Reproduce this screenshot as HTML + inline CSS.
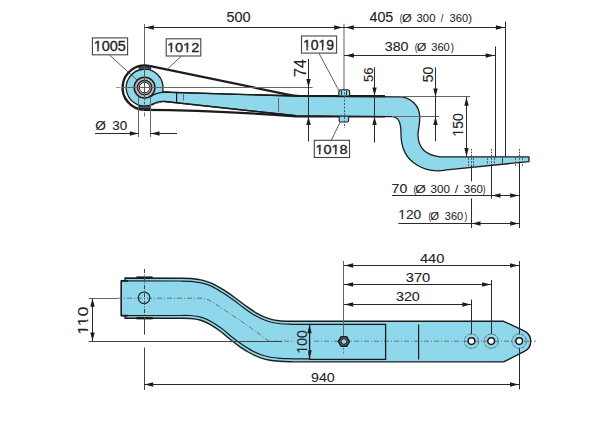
<!DOCTYPE html>
<html><head><meta charset="utf-8"><style>
html,body{margin:0;padding:0;background:#fff;}
svg{display:block;}
text{font-family:"Liberation Sans",sans-serif;stroke:#222;stroke-width:0.1px;}
.sm text{stroke-width:0.05px;}
.lb text{stroke-width:0.35px;}
</style></head><body>
<svg width="600" height="440" viewBox="0 0 600 440">
<rect width="600" height="440" fill="#fff"/>
<line x1="144.50" y1="24.00" x2="144.50" y2="66.00" stroke="#666" stroke-width="1.0" stroke-linecap="butt"/>
<line x1="344.00" y1="23.80" x2="344.00" y2="89.80" stroke="#777" stroke-width="1.15" stroke-linecap="butt"/>
<line x1="505.50" y1="21.60" x2="505.50" y2="157.00" stroke="#2a2a2a" stroke-width="1.0" stroke-linecap="butt"/>
<line x1="495.50" y1="46.50" x2="495.50" y2="157.00" stroke="#2a2a2a" stroke-width="1.0" stroke-linecap="butt"/>
<line x1="144.60" y1="27.50" x2="344.00" y2="27.50" stroke="#2a2a2a" stroke-width="1.0" stroke-linecap="butt"/>
<path d="M145.30,27.50 L153.80,25.30 L153.80,29.70 Z" fill="#1c1c1c"/>
<path d="M342.60,27.50 L334.10,29.70 L334.10,25.30 Z" fill="#1c1c1c"/>
<text x="226.42" y="21.76" font-size="14.12" fill="#222" textLength="24.14" lengthAdjust="spacingAndGlyphs">500</text>
<line x1="344.00" y1="27.50" x2="505.20" y2="27.50" stroke="#2a2a2a" stroke-width="1.0" stroke-linecap="butt"/>
<path d="M345.40,27.50 L353.90,25.30 L353.90,29.70 Z" fill="#1c1c1c"/>
<path d="M504.40,27.50 L495.90,29.70 L495.90,25.30 Z" fill="#1c1c1c"/>
<text x="369.47" y="21.86" font-size="13.98" fill="#222" textLength="23.83" lengthAdjust="spacingAndGlyphs">405</text>
<g class="sm">
<text x="399.81" y="21.90" font-size="10.50" fill="#222" textLength="2.64" lengthAdjust="spacingAndGlyphs">(</text>
<text x="401.96" y="22.20" font-size="11.55" fill="#222" textLength="9.77" lengthAdjust="spacingAndGlyphs">Ø</text>
<text x="416.57" y="21.90" font-size="10.50" fill="#222" textLength="18.87" lengthAdjust="spacingAndGlyphs">300</text>
<text x="440.80" y="21.90" font-size="10.50" fill="#222" textLength="2.60" lengthAdjust="spacingAndGlyphs">/</text>
<text x="449.58" y="21.90" font-size="10.50" fill="#222" textLength="18.56" lengthAdjust="spacingAndGlyphs">360</text>
<text x="468.23" y="21.90" font-size="10.50" fill="#222" textLength="3.77" lengthAdjust="spacingAndGlyphs">)</text>
</g>
<line x1="344.00" y1="55.50" x2="495.00" y2="55.50" stroke="#2a2a2a" stroke-width="1.0" stroke-linecap="butt"/>
<path d="M345.40,55.50 L353.90,53.30 L353.90,57.70 Z" fill="#1c1c1c"/>
<path d="M494.20,55.50 L485.70,57.70 L485.70,53.30 Z" fill="#1c1c1c"/>
<text x="384.76" y="50.77" font-size="13.14" fill="#222" textLength="23.80" lengthAdjust="spacingAndGlyphs">380</text>
<g class="sm">
<text x="414.79" y="50.90" font-size="10.00" fill="#222" textLength="2.76" lengthAdjust="spacingAndGlyphs">(</text>
<text x="416.87" y="51.20" font-size="11.00" fill="#222" textLength="9.55" lengthAdjust="spacingAndGlyphs">Ø</text>
<text x="431.28" y="50.90" font-size="10.00" fill="#222" textLength="18.45" lengthAdjust="spacingAndGlyphs">360</text>
<text x="450.64" y="50.90" font-size="10.00" fill="#222" textLength="3.27" lengthAdjust="spacingAndGlyphs">)</text>
</g>
<path d="M149.2,65.8 L288,94.6 Q294,96 300,96" fill="none" stroke="#1c1c1c" stroke-width="2.2" stroke-linejoin="round" />
<path d="M149.15,65.87 A22.2,22.2 0 1 0 143.5,109.80" fill="none" stroke="#1c1c1c" stroke-width="2.4" stroke-linejoin="round" />
<path d="M143.5,109.9 Q210,110 296,116.4 L385,116.4" fill="none" stroke="#1c1c1c" stroke-width="2.2" stroke-linejoin="round" />
<path d="M160,92 L296,96 L399.5,96.9 C410.6,96.9 419.8,105.8 419.8,117.5 C419.8,126 417.6,131 418,136 C418.5,146 424,155 440,156.8 L529,156.8 L529,161.6 L446.7,169.8 C436,172 425,170 417,165 C405,158 401,146 401,134 C401,128 400.5,124 399,121 C397,117.5 395,116.6 392,116.6 L296,115.6 L163,101.3 Z" fill="#8fd8ec" stroke="#1c1c1c" stroke-width="1.3" stroke-linejoin="round" />
<path d="M162.82,90.16 A18.4,18.4 0 1 0 153.24,103.85 L163,101.3 L163,92 Z" fill="#8fd8ec" stroke="#1c1c1c" stroke-width="1.3" stroke-linejoin="round" />
<path d="M155,92 L165,92 L165,101 L155,104 Z" fill="#8fd8ec"/>
<path d="M150,97.2 Q155,93 163,92.1 L170,92.2" fill="none" stroke="#1c1c1c" stroke-width="1.3" stroke-linejoin="round" />
<path d="M151.5,105.2 Q156,101.5 163,101.3" fill="none" stroke="#1c1c1c" stroke-width="1.3" stroke-linejoin="round" />
<line x1="296.00" y1="96.00" x2="385.00" y2="96.10" stroke="#1c1c1c" stroke-width="2.2" stroke-linecap="butt"/>
<line x1="163.00" y1="92.10" x2="296.00" y2="96.00" stroke="#1c1c1c" stroke-width="1.4" stroke-linecap="butt"/>
<line x1="163.00" y1="101.30" x2="296.00" y2="115.80" stroke="#1c1c1c" stroke-width="1.4" stroke-linecap="butt"/>
<line x1="176.60" y1="92.40" x2="176.60" y2="102.50" stroke="#1c1c1c" stroke-width="1.2" stroke-linecap="butt"/>
<line x1="183.50" y1="94.20" x2="183.50" y2="100.40" stroke="#666" stroke-width="1.0" stroke-linecap="butt"/>
<line x1="278.50" y1="97.80" x2="278.50" y2="112.20" stroke="#666" stroke-width="1.0" stroke-linecap="butt"/>
<circle cx="144.6" cy="87.6" r="10.4" fill="#b8b8b8" stroke="#1c1c1c" stroke-width="1.5" />
<circle cx="144.6" cy="87.6" r="7.2" fill="none" stroke="#1c1c1c" stroke-width="1.2" />
<circle cx="144.6" cy="87.6" r="5.3" fill="#fff" stroke="#1c1c1c" stroke-width="1.0" />
<rect x="139.2" y="66.9" width="11.4" height="2.4" fill="#3a5d68" stroke="#1c1c1c" stroke-width="0.9"/>
<rect x="138.9" y="106.0" width="11.5" height="2.6" fill="#3a5d68" stroke="#1c1c1c" stroke-width="0.9"/>
<line x1="121.50" y1="87.50" x2="312.60" y2="87.50" stroke="#666" stroke-width="1.0" stroke-linecap="butt"/>
<line x1="116.30" y1="87.50" x2="118.60" y2="87.50" stroke="#777" stroke-width="1.0" stroke-linecap="butt"/>
<line x1="119.30" y1="87.50" x2="120.30" y2="87.50" stroke="#777" stroke-width="1.0" stroke-linecap="butt"/>
<line x1="144.50" y1="66.00" x2="144.50" y2="98.00" stroke="#555" stroke-width="1.0" stroke-linecap="butt"/>
<line x1="144.50" y1="98.00" x2="144.50" y2="106.00" stroke="#555" stroke-width="1.0" stroke-linecap="butt" stroke-dasharray="2.5,1.5"/>
<line x1="144.50" y1="112.50" x2="144.50" y2="116.50" stroke="#777" stroke-width="1.0" stroke-linecap="butt"/>
<line x1="138.50" y1="97.00" x2="138.50" y2="137.00" stroke="#666" stroke-width="1.0" stroke-linecap="butt"/>
<line x1="150.50" y1="97.00" x2="150.50" y2="137.00" stroke="#666" stroke-width="1.0" stroke-linecap="butt"/>
<line x1="95.00" y1="133.50" x2="138.80" y2="133.50" stroke="#2a2a2a" stroke-width="1.0" stroke-linecap="butt"/>
<path d="M138.30,133.50 L129.80,135.70 L129.80,131.30 Z" fill="#1c1c1c"/>
<line x1="150.50" y1="133.50" x2="177.00" y2="133.50" stroke="#2a2a2a" stroke-width="1.0" stroke-linecap="butt"/>
<path d="M151.00,133.50 L159.50,131.30 L159.50,135.70 Z" fill="#1c1c1c"/>
<text x="95.22" y="129.60" font-size="13.60" fill="#222" textLength="10.64" lengthAdjust="spacingAndGlyphs">Ø</text>
<text x="112.19" y="129.67" font-size="13.14" fill="#222" textLength="15.04" lengthAdjust="spacingAndGlyphs">30</text>
<path d="M338.8,96 L338.8,92 Q338.8,89.8 341,89.8 L347.5,89.8 Q349.6,89.8 349.6,92 L349.6,96 Z" fill="#8fd8ec" stroke="#1c1c1c" stroke-width="1.1" stroke-linejoin="round" />
<path d="M339.2,116.8 L339.2,120.8 Q339.2,122 340.4,122 L347.4,122 Q348.6,122 348.6,120.8 L348.6,116.8" fill="#8fd8ec" stroke="#1c1c1c" stroke-width="1.1" stroke-linejoin="round" />
<line x1="341.50" y1="90.50" x2="341.50" y2="95.50" stroke="#333" stroke-width="1.0" stroke-linecap="butt"/>
<line x1="346.50" y1="90.50" x2="346.50" y2="95.50" stroke="#333" stroke-width="1.0" stroke-linecap="butt"/>
<line x1="344.50" y1="89.00" x2="344.50" y2="128.00" stroke="#555" stroke-width="1.0" stroke-linecap="butt" stroke-dasharray="2,1.5"/>
<line x1="308.50" y1="59.00" x2="308.50" y2="141.50" stroke="#2a2a2a" stroke-width="1.0" stroke-linecap="butt"/>
<path d="M308.50,87.60 L306.30,79.10 L310.70,79.10 Z" fill="#1c1c1c"/>
<path d="M308.50,116.40 L310.70,124.90 L306.30,124.90 Z" fill="#1c1c1c"/>
<g transform="rotate(-90 305.60 68.00)"><text x="296.70" y="68.00" font-size="16" fill="#222">74</text></g>
<line x1="374.50" y1="67.30" x2="374.50" y2="142.50" stroke="#2a2a2a" stroke-width="1.0" stroke-linecap="butt"/>
<path d="M374.50,96.00 L372.30,87.50 L376.70,87.50 Z" fill="#1c1c1c"/>
<path d="M374.50,116.40 L376.70,124.90 L372.30,124.90 Z" fill="#1c1c1c"/>
<g transform="rotate(-90 372.80 74.70)"><text x="365.41" y="74.70" font-size="13.3" fill="#222">56</text></g>
<line x1="400.00" y1="96.50" x2="470.00" y2="96.50" stroke="#666" stroke-width="1.0" stroke-linecap="butt"/>
<line x1="392.00" y1="116.50" x2="439.30" y2="116.50" stroke="#666" stroke-width="1.0" stroke-linecap="butt"/>
<line x1="435.50" y1="67.30" x2="435.50" y2="141.30" stroke="#2a2a2a" stroke-width="1.0" stroke-linecap="butt"/>
<path d="M435.50,96.90 L433.30,88.40 L437.70,88.40 Z" fill="#1c1c1c"/>
<path d="M435.50,116.60 L437.70,125.10 L433.30,125.10 Z" fill="#1c1c1c"/>
<g transform="rotate(-90 433.20 74.50)"><text x="425.42" y="74.50" font-size="14" fill="#222">50</text></g>
<line x1="466.50" y1="96.90" x2="466.50" y2="156.70" stroke="#2a2a2a" stroke-width="1.0" stroke-linecap="butt"/>
<path d="M466.50,97.20 L468.70,105.70 L464.30,105.70 Z" fill="#1c1c1c"/>
<path d="M466.50,156.40 L464.30,147.90 L468.70,147.90 Z" fill="#1c1c1c"/>
<g transform="rotate(-90 463.20 124.90)"><text x="451.52" y="124.90" font-size="14" fill="#222">150</text><rect x="451.76" y="122.55" width="3.13" height="3.65" fill="#fff"/><rect x="456.43" y="122.55" width="3.32" height="3.65" fill="#fff"/></g>
<line x1="468.50" y1="157.80" x2="468.50" y2="166.00" stroke="#555" stroke-width="1.0" stroke-linecap="butt" stroke-dasharray="2,1.3"/>
<line x1="471.50" y1="157.80" x2="471.50" y2="166.00" stroke="#555" stroke-width="1.0" stroke-linecap="butt" stroke-dasharray="2,1.3"/>
<line x1="473.50" y1="157.80" x2="473.50" y2="166.00" stroke="#555" stroke-width="1.0" stroke-linecap="butt" stroke-dasharray="2,1.3"/>
<line x1="487.50" y1="157.80" x2="487.50" y2="166.00" stroke="#555" stroke-width="1.0" stroke-linecap="butt" stroke-dasharray="2,1.3"/>
<line x1="491.50" y1="157.80" x2="491.50" y2="166.00" stroke="#555" stroke-width="1.0" stroke-linecap="butt" stroke-dasharray="2,1.3"/>
<line x1="494.50" y1="157.80" x2="494.50" y2="166.00" stroke="#555" stroke-width="1.0" stroke-linecap="butt" stroke-dasharray="2,1.3"/>
<line x1="515.50" y1="157.80" x2="515.50" y2="166.00" stroke="#555" stroke-width="1.0" stroke-linecap="butt" stroke-dasharray="2,1.3"/>
<line x1="519.50" y1="157.80" x2="519.50" y2="166.00" stroke="#555" stroke-width="1.0" stroke-linecap="butt" stroke-dasharray="2,1.3"/>
<line x1="522.50" y1="157.80" x2="522.50" y2="166.00" stroke="#555" stroke-width="1.0" stroke-linecap="butt" stroke-dasharray="2,1.3"/>
<line x1="502.50" y1="157.50" x2="502.50" y2="163.50" stroke="#444" stroke-width="1.0" stroke-linecap="butt"/>
<line x1="471.50" y1="149.00" x2="471.50" y2="156.00" stroke="#444" stroke-width="1.0" stroke-linecap="butt" stroke-dasharray="1.5,1.2"/>
<line x1="491.50" y1="149.00" x2="491.50" y2="156.00" stroke="#444" stroke-width="1.0" stroke-linecap="butt" stroke-dasharray="1.5,1.2"/>
<line x1="519.50" y1="149.00" x2="519.50" y2="156.00" stroke="#444" stroke-width="1.0" stroke-linecap="butt" stroke-dasharray="1.5,1.2"/>
<line x1="471.50" y1="166.00" x2="471.50" y2="181.30" stroke="#2a2a2a" stroke-width="1.0" stroke-linecap="butt"/>
<line x1="471.50" y1="198.40" x2="471.50" y2="228.00" stroke="#2a2a2a" stroke-width="1.0" stroke-linecap="butt"/>
<line x1="491.50" y1="164.00" x2="491.50" y2="198.50" stroke="#2a2a2a" stroke-width="1.0" stroke-linecap="butt"/>
<line x1="519.50" y1="162.00" x2="519.50" y2="228.00" stroke="#2a2a2a" stroke-width="1.0" stroke-linecap="butt"/>
<line x1="392.00" y1="195.50" x2="519.40" y2="195.50" stroke="#2a2a2a" stroke-width="1.0" stroke-linecap="butt"/>
<path d="M492.00,195.50 L500.50,193.30 L500.50,197.70 Z" fill="#1c1c1c"/>
<path d="M518.70,195.50 L510.20,197.70 L510.20,193.30 Z" fill="#1c1c1c"/>
<text x="391.58" y="192.57" font-size="13.42" fill="#222" textLength="15.67" lengthAdjust="spacingAndGlyphs">70</text>
<g class="sm">
<text x="413.46" y="192.70" font-size="10.40" fill="#222" textLength="2.89" lengthAdjust="spacingAndGlyphs">(</text>
<text x="415.23" y="193.00" font-size="11.44" fill="#222" textLength="10.53" lengthAdjust="spacingAndGlyphs">Ø</text>
<text x="430.56" y="192.70" font-size="10.40" fill="#222" textLength="19.40" lengthAdjust="spacingAndGlyphs">300</text>
<text x="454.70" y="192.70" font-size="10.40" fill="#222" textLength="3.50" lengthAdjust="spacingAndGlyphs">/</text>
<text x="463.87" y="192.70" font-size="10.40" fill="#222" textLength="19.08" lengthAdjust="spacingAndGlyphs">360</text>
<text x="482.75" y="192.70" font-size="10.40" fill="#222" textLength="2.76" lengthAdjust="spacingAndGlyphs">)</text>
</g>
<line x1="398.40" y1="223.50" x2="519.40" y2="223.50" stroke="#2a2a2a" stroke-width="1.0" stroke-linecap="butt"/>
<path d="M472.00,223.50 L480.50,221.30 L480.50,225.70 Z" fill="#1c1c1c"/>
<path d="M518.70,223.50 L510.20,225.70 L510.20,221.30 Z" fill="#1c1c1c"/>
<text x="398.25" y="219.27" font-size="12.85" fill="#222" textLength="22.98" lengthAdjust="spacingAndGlyphs">120</text>
<rect x="398.48" y="217.01" width="3.09" height="3.56" fill="#fff"/>
<rect x="403.09" y="217.01" width="3.28" height="3.56" fill="#fff"/>
<g class="sm">
<text x="428.41" y="219.70" font-size="10.10" fill="#222" textLength="2.64" lengthAdjust="spacingAndGlyphs">(</text>
<text x="430.31" y="220.00" font-size="11.11" fill="#222" textLength="8.78" lengthAdjust="spacingAndGlyphs">Ø</text>
<text x="444.88" y="219.70" font-size="10.10" fill="#222" textLength="18.24" lengthAdjust="spacingAndGlyphs">360</text>
<text x="464.45" y="219.70" font-size="10.10" fill="#222" textLength="2.76" lengthAdjust="spacingAndGlyphs">)</text>
</g>
<line x1="109.20" y1="54.80" x2="137.20" y2="80.20" stroke="#333" stroke-width="0.8" stroke-linecap="butt"/>
<rect x="92.4" y="37.9" width="35.20" height="16.90" fill="#fff" stroke="#444" stroke-width="1.1"/>
<g class="lb">
<text x="93.70" y="51.06" font-size="14.41" fill="#222" textLength="32.10" lengthAdjust="spacingAndGlyphs">1005</text>
<rect x="93.97" y="48.68" width="3.21" height="3.68" fill="#fff"/>
<rect x="98.76" y="48.68" width="3.42" height="3.68" fill="#fff"/>
</g>
<line x1="181.50" y1="56.00" x2="168.00" y2="68.50" stroke="#333" stroke-width="0.8" stroke-linecap="butt"/>
<rect x="166.2" y="38.8" width="34.60" height="17.20" fill="#fff" stroke="#444" stroke-width="1.1"/>
<g class="lb">
<text x="166.90" y="51.87" font-size="13.42" fill="#222" textLength="32.33" lengthAdjust="spacingAndGlyphs">1012</text>
<rect x="167.17" y="49.56" width="3.23" height="3.60" fill="#fff"/>
<rect x="171.99" y="49.56" width="3.44" height="3.60" fill="#fff"/>
<rect x="183.33" y="49.56" width="3.23" height="3.60" fill="#fff"/>
<rect x="188.15" y="49.56" width="3.44" height="3.60" fill="#fff"/>
</g>
<line x1="319.00" y1="53.30" x2="338.70" y2="90.20" stroke="#333" stroke-width="0.8" stroke-linecap="butt"/>
<rect x="301.5" y="36.0" width="35.10" height="17.10" fill="#fff" stroke="#444" stroke-width="1.1"/>
<g class="lb">
<text x="302.94" y="49.56" font-size="14.12" fill="#222" textLength="31.02" lengthAdjust="spacingAndGlyphs">1019</text>
<rect x="303.18" y="47.20" width="3.12" height="3.66" fill="#fff"/>
<rect x="307.83" y="47.20" width="3.31" height="3.66" fill="#fff"/>
<rect x="318.68" y="47.20" width="3.12" height="3.66" fill="#fff"/>
<rect x="323.34" y="47.20" width="3.31" height="3.66" fill="#fff"/>
</g>
<line x1="331.30" y1="140.30" x2="340.00" y2="122.50" stroke="#333" stroke-width="0.8" stroke-linecap="butt"/>
<rect x="314.3" y="140.3" width="35.20" height="17.20" fill="#fff" stroke="#444" stroke-width="1.1"/>
<g class="lb">
<text x="315.40" y="153.56" font-size="13.70" fill="#222" textLength="32.22" lengthAdjust="spacingAndGlyphs">1018</text>
<rect x="315.67" y="151.24" width="3.22" height="3.62" fill="#fff"/>
<rect x="320.48" y="151.24" width="3.43" height="3.62" fill="#fff"/>
<rect x="331.78" y="151.24" width="3.22" height="3.62" fill="#fff"/>
<rect x="336.59" y="151.24" width="3.43" height="3.62" fill="#fff"/>
</g>
<path d="M125,278 L180,278.2 C181.83,278.25 187.33,278.18 191.00,278.50 C194.67,278.82 198.33,279.22 202.00,280.10 C205.67,280.98 209.33,282.12 213.00,283.80 C216.67,285.48 220.33,287.88 224.00,290.20 C227.67,292.52 231.33,295.07 235.00,297.70 C238.67,300.33 242.33,303.40 246.00,306.00 C249.67,308.60 253.33,311.25 257.00,313.30 C260.67,315.35 264.33,317.07 268.00,318.30 C271.67,319.53 275.00,320.20 279.00,320.70 C283.00,321.20 289.83,321.20 292.00,321.30 L503.7,321.3 L524.05,330.77 A11.5,11.5 0 0 1 524.38,351.47 L503.7,361.9 L292,361.8 C290.00,361.72 283.67,361.57 280.00,361.30 C276.33,361.03 273.33,360.82 270.00,360.20 C266.67,359.58 263.33,358.80 260.00,357.60 C256.67,356.40 253.33,354.80 250.00,353.00 C246.67,351.20 243.33,349.08 240.00,346.80 C236.67,344.52 233.33,341.93 230.00,339.30 C226.67,336.67 223.33,333.50 220.00,331.00 C216.67,328.50 213.33,326.13 210.00,324.30 C206.67,322.47 203.33,320.97 200.00,320.00 C196.67,319.03 193.33,318.78 190.00,318.50 C186.67,318.22 181.67,318.33 180.00,318.30 L125,318.3 Z" fill="#8fd8ec" stroke="#1c1c1c" stroke-width="1.4" stroke-linejoin="round" />
<rect x="121.2" y="280.9" width="10" height="34.7" fill="#8fd8ec" stroke="none"/>
<path d="M121.2,280.9 L180,281 C181.79,281.05 187.20,280.99 190.76,281.29 C194.32,281.59 197.83,281.98 201.34,282.82 C204.86,283.66 208.31,284.72 211.83,286.34 C215.36,287.97 218.92,290.30 222.50,292.57 C226.09,294.84 229.72,297.35 233.37,299.97 C237.01,302.59 240.67,305.66 244.38,308.28 C248.09,310.91 251.85,313.63 255.63,315.74 C259.42,317.86 263.27,319.66 267.11,320.95 C270.94,322.24 274.50,322.92 278.65,323.48 C282.80,324.04 289.78,324.16 292.00,324.30 L310,324.3" fill="none" stroke="#1c1c1c" stroke-width="1.2" stroke-linejoin="round" />
<path d="M121.2,315.6 L180,315.5 C181.71,315.42 186.78,315.22 190.25,315.51 C193.73,315.80 197.30,316.09 200.84,317.12 C204.37,318.15 207.95,319.76 211.45,321.67 C214.94,323.58 218.40,326.05 221.80,328.60 C225.20,331.15 228.54,334.33 231.86,336.95 C235.18,339.57 238.43,342.09 241.70,344.32 C244.96,346.56 248.21,348.62 251.43,350.36 C254.65,352.10 257.83,353.63 261.02,354.78 C264.20,355.93 267.35,356.66 270.55,357.25 C273.75,357.84 276.64,358.05 280.22,358.31 C283.79,358.57 290.04,358.72 292.00,358.80 L310,358.8" fill="none" stroke="#1c1c1c" stroke-width="1.2" stroke-linejoin="round" />
<path d="M128,280.9 L121.2,280.9 L121.2,315.6 L128,315.6" fill="none" stroke="#1c1c1c" stroke-width="1.6" stroke-linejoin="round" />
<rect x="136.4" y="276.4" width="16.2" height="2.4" fill="#1c1c1c"/>
<rect x="136.4" y="317" width="16.2" height="2.4" fill="#1c1c1c"/>
<circle cx="144.1" cy="297.8" r="5.8" fill="none" stroke="#1c1c1c" stroke-width="1.2" />
<path d="M117,298.2 L200,298.2 C206,298.2 209,300 213,302.3 L249.7,327 L262,336 C266,339.5 268,341.2 272,341.2 L294.5,341.2" fill="none" stroke="#4a4a4a" stroke-width="0.7" stroke-linejoin="round" stroke-dasharray="5,2,1,2"/>
<path d="M314,341.2 L536,341.2" fill="none" stroke="#4a4a4a" stroke-width="0.7" stroke-linejoin="round" stroke-dasharray="5,2,1,2"/>
<line x1="88.70" y1="298.50" x2="117.50" y2="298.50" stroke="#666" stroke-width="1.0" stroke-linecap="butt"/>
<line x1="88.70" y1="341.50" x2="282.00" y2="341.50" stroke="#444" stroke-width="1.0" stroke-linecap="butt"/>
<line x1="92.50" y1="298.00" x2="92.50" y2="341.30" stroke="#2a2a2a" stroke-width="1.0" stroke-linecap="butt"/>
<path d="M92.50,298.30 L94.70,306.80 L90.30,306.80 Z" fill="#1c1c1c"/>
<path d="M92.50,341.00 L90.30,332.50 L94.70,332.50 Z" fill="#1c1c1c"/>
<g transform="rotate(-90 88.30 320.80)"><text x="74.05" y="320.80" font-size="14.4" fill="#222" textLength="28.50" lengthAdjust="spacingAndGlyphs">110</text><rect x="74.48" y="318.42" width="3.72" height="3.68" fill="#fff"/><rect x="80.01" y="318.42" width="3.99" height="3.68" fill="#fff"/><rect x="83.98" y="318.42" width="3.72" height="3.68" fill="#fff"/><rect x="89.51" y="318.42" width="3.99" height="3.68" fill="#fff"/></g>
<rect x="309.6" y="324.4" width="76" height="35" fill="none" stroke="#1c1c1c" stroke-width="1.3"/>
<line x1="418.60" y1="324.40" x2="418.60" y2="359.50" stroke="#1c1c1c" stroke-width="1.2" stroke-linecap="butt"/>
<path d="M309.50,324.80 L311.70,333.30 L307.30,333.30 Z" fill="#1c1c1c"/>
<path d="M309.50,358.80 L307.30,350.30 L311.70,350.30 Z" fill="#1c1c1c"/>
<g transform="rotate(-90 307.10 341.80)"><text x="295.42" y="341.80" font-size="14" fill="#222">100</text><rect x="295.66" y="339.45" width="3.13" height="3.65" fill="#8fd8ec"/><rect x="300.33" y="339.45" width="3.32" height="3.65" fill="#8fd8ec"/></g>
<polygon points="349.40,341.50 346.65,346.26 341.15,346.26 338.40,341.50 341.15,336.74 346.65,336.74" fill="#50707a" stroke="#1c1c1c" stroke-width="1.5"/>
<circle cx="343.9" cy="341.5" r="2.8" fill="#8fd8ec" stroke="#1c1c1c" stroke-width="1.0" />
<circle cx="471.5" cy="341.1" r="7.2" fill="none" stroke="#3a4a50" stroke-width="0.7" stroke-dasharray="4,1"/>
<circle cx="471.5" cy="341.1" r="3.35" fill="#fff" stroke="#1c1c1c" stroke-width="1.5" />
<circle cx="491.2" cy="341.1" r="7.2" fill="none" stroke="#3a4a50" stroke-width="0.7" stroke-dasharray="4,1"/>
<circle cx="491.2" cy="341.1" r="3.35" fill="#fff" stroke="#1c1c1c" stroke-width="1.5" />
<circle cx="519.2" cy="341.1" r="7.2" fill="none" stroke="#3a4a50" stroke-width="0.7" stroke-dasharray="4,1"/>
<circle cx="519.2" cy="341.1" r="3.35" fill="#fff" stroke="#1c1c1c" stroke-width="1.5" />
<line x1="343.50" y1="261.00" x2="343.50" y2="336.00" stroke="#666" stroke-width="1.0" stroke-linecap="butt"/>
<line x1="343.50" y1="348.00" x2="343.50" y2="355.00" stroke="#777" stroke-width="1.0" stroke-linecap="butt" stroke-dasharray="2,1.5"/>
<line x1="519.50" y1="261.00" x2="519.50" y2="334.20" stroke="#2a2a2a" stroke-width="1.0" stroke-linecap="butt"/>
<line x1="519.50" y1="348.20" x2="519.50" y2="389.30" stroke="#2a2a2a" stroke-width="1.0" stroke-linecap="butt"/>
<line x1="491.50" y1="280.00" x2="491.50" y2="334.20" stroke="#2a2a2a" stroke-width="1.0" stroke-linecap="butt"/>
<line x1="471.50" y1="299.50" x2="471.50" y2="334.20" stroke="#2a2a2a" stroke-width="1.0" stroke-linecap="butt"/>
<line x1="344.00" y1="265.50" x2="519.20" y2="265.50" stroke="#2a2a2a" stroke-width="1.0" stroke-linecap="butt"/>
<path d="M344.70,265.50 L353.20,263.30 L353.20,267.70 Z" fill="#1c1c1c"/>
<path d="M518.50,265.50 L510.00,267.70 L510.00,263.30 Z" fill="#1c1c1c"/>
<text x="419.96" y="262.62" font-size="13.35" fill="#222" textLength="24.41" lengthAdjust="spacingAndGlyphs">440</text>
<line x1="344.00" y1="284.50" x2="491.50" y2="284.50" stroke="#2a2a2a" stroke-width="1.0" stroke-linecap="butt"/>
<path d="M344.70,284.50 L353.20,282.30 L353.20,286.70 Z" fill="#1c1c1c"/>
<path d="M490.60,284.50 L482.10,286.70 L482.10,282.30 Z" fill="#1c1c1c"/>
<text x="405.74" y="281.87" font-size="13.42" fill="#222" textLength="24.58" lengthAdjust="spacingAndGlyphs">370</text>
<line x1="344.00" y1="304.50" x2="471.30" y2="304.50" stroke="#2a2a2a" stroke-width="1.0" stroke-linecap="butt"/>
<path d="M344.70,304.50 L353.20,302.30 L353.20,306.70 Z" fill="#1c1c1c"/>
<path d="M470.80,304.50 L462.30,306.70 L462.30,302.30 Z" fill="#1c1c1c"/>
<text x="395.96" y="301.12" font-size="13.35" fill="#222" textLength="23.85" lengthAdjust="spacingAndGlyphs">320</text>
<line x1="144.50" y1="269.00" x2="144.50" y2="318.00" stroke="#444" stroke-width="1.0" stroke-linecap="butt" stroke-dasharray="4,1.5,1,1.5"/>
<line x1="144.50" y1="318.00" x2="144.50" y2="334.70" stroke="#444" stroke-width="1.0" stroke-linecap="butt"/>
<line x1="144.50" y1="347.50" x2="144.50" y2="390.00" stroke="#444" stroke-width="1.0" stroke-linecap="butt"/>
<line x1="144.00" y1="384.50" x2="519.20" y2="384.50" stroke="#2a2a2a" stroke-width="1.0" stroke-linecap="butt"/>
<path d="M144.70,384.50 L153.20,382.30 L153.20,386.70 Z" fill="#1c1c1c"/>
<path d="M518.50,384.50 L510.00,386.70 L510.00,382.30 Z" fill="#1c1c1c"/>
<text x="311.03" y="382.46" font-size="13.56" fill="#222" textLength="23.72" lengthAdjust="spacingAndGlyphs">940</text>
</svg>
</body></html>
